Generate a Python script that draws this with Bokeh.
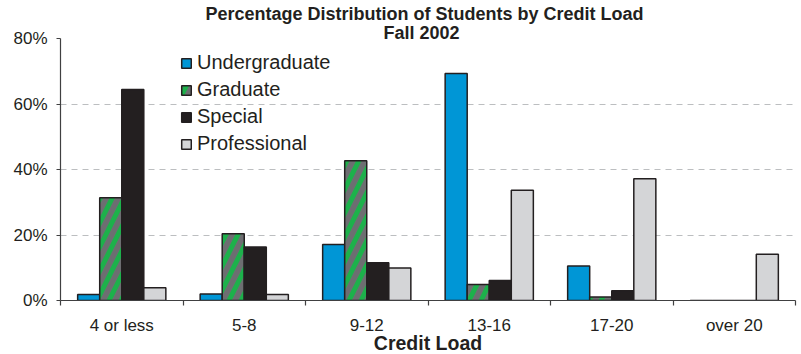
from bokeh.plotting import figure
from bokeh.models import (ColumnDataSource, Range1d, FixedTicker, Legend,
                          LegendItem, Title)
from bokeh.embed import file_html
from bokeh.resources import INLINE

categories = ["4 or less", "5-8", "9-12", "13-16", "17-20", "over 20"]
undergraduate = [1.8, 2.0, 17.1, 69.3, 10.5, 0.0]
graduate = [31.4, 20.4, 42.7, 4.9, 1.1, 0.0]
special = [64.4, 16.3, 11.5, 6.1, 3.0, 0.0]
professional = [3.9, 1.8, 9.9, 33.7, 37.2, 14.1]
y_ticks = [0, 20, 40, 60, 80]

series = [
    ("Undergraduate", undergraduate, dict(fill_color="#0096D6")),
    ("Graduate", graduate, dict(fill_color="#6D6E71", hatch_pattern="/",
                                hatch_color="#1DB14B", hatch_scale=24, hatch_weight=5)),
    ("Special", special, dict(fill_color="#231F20")),
    ("Professional", professional, dict(fill_color="#D4D5D7")),
]

FONT = "Liberation Sans"
p = figure(frame_width=735, frame_height=262, output_backend="svg", toolbar_location=None,
           x_range=Range1d(0, len(categories)), y_range=Range1d(0, 80), title=None)
p.min_border_left = 60
p.min_border_right = 3
p.min_border_top = 0
p.min_border_bottom = 0
p.outline_line_color = None
p.background_fill_color = "white"

title_style = dict(align="left", text_font=FONT, text_font_size="18px",
                   text_font_style="bold", text_color="#231F20")
p.add_layout(Title(text="Fall 2002", standoff=-8, offset=323, **title_style), "above")
p.add_layout(Title(text="Percentage Distribution of Students by Credit Load",
                   standoff=2, offset=145, **title_style), "above")

bw = 0.18
items = []
for k, (name, vals, style) in enumerate(series):
    xs = [i + 0.5 + (k - 1.5) * bw for i in range(len(categories))]
    src = ColumnDataSource(dict(x=xs, top=vals))
    r = p.vbar(x="x", top="top", width=bw, bottom=0, source=src,
               line_color="#231F20", line_width=1.5, **style)
    items.append(LegendItem(label=name, renderers=[r]))

legend = Legend(items=items, location=(120, 145))
legend.background_fill_alpha = 0
legend.border_line_color = None
legend.padding = 0
legend.margin = 0
legend.glyph_width = 12
legend.glyph_height = 12
legend.label_height = 22
legend.spacing = 4
legend.label_standoff = 5
legend.label_text_font = FONT
legend.label_text_font_size = "20px"
legend.label_text_color = "#231F20"
p.add_layout(legend)

# y axis
p.yaxis.ticker = FixedTicker(ticks=y_ticks)
p.yaxis.major_label_overrides = {t: f"{t}%" for t in y_ticks}
p.yaxis.major_label_text_font = FONT
p.yaxis.major_label_text_font_size = "17px"
p.yaxis.major_label_text_color = "#231F20"
p.yaxis.axis_line_color = "#404041"
p.yaxis.axis_line_width = 1.2
p.yaxis.major_tick_line_color = "#404041"
p.yaxis.major_tick_out = 4
p.yaxis.major_tick_in = 0
p.yaxis.minor_tick_line_color = None
p.yaxis.major_label_standoff = 9

# x axis
centers = [i + 0.5 for i in range(len(categories))]
p.xaxis.ticker = FixedTicker(ticks=centers, minor_ticks=list(range(len(categories) + 1)))
p.xaxis.major_label_overrides = {c: lab for c, lab in zip(centers, categories)}
p.xaxis.major_tick_line_color = None
p.xaxis.major_tick_out = 0
p.xaxis.major_tick_in = 0
p.xaxis.minor_tick_line_color = "#404041"
p.xaxis.minor_tick_out = 5
p.xaxis.minor_tick_in = 0
p.xaxis.minor_tick_line_width = 1.2
p.xaxis.axis_line_color = "#404041"
p.xaxis.axis_line_width = 1.2
p.xaxis.major_label_text_font = FONT
p.xaxis.major_label_text_font_size = "17px"
p.xaxis.major_label_text_color = "#231F20"
p.xaxis.major_label_standoff = 10
p.xaxis.axis_label = "Credit Load"
p.xaxis.axis_label_text_font = FONT
p.xaxis.axis_label_text_font_size = "19.5px"
p.xaxis.axis_label_text_font_style = "bold"
p.xaxis.axis_label_text_color = "#231F20"
p.xaxis.axis_label_standoff = -6

p.xgrid.grid_line_color = None
p.ygrid.grid_line_color = "#BCBEC0"
p.ygrid.grid_line_dash = "6 5"
p.ygrid.grid_line_width = 1

open("out.html", "w").write(file_html(p, INLINE))
